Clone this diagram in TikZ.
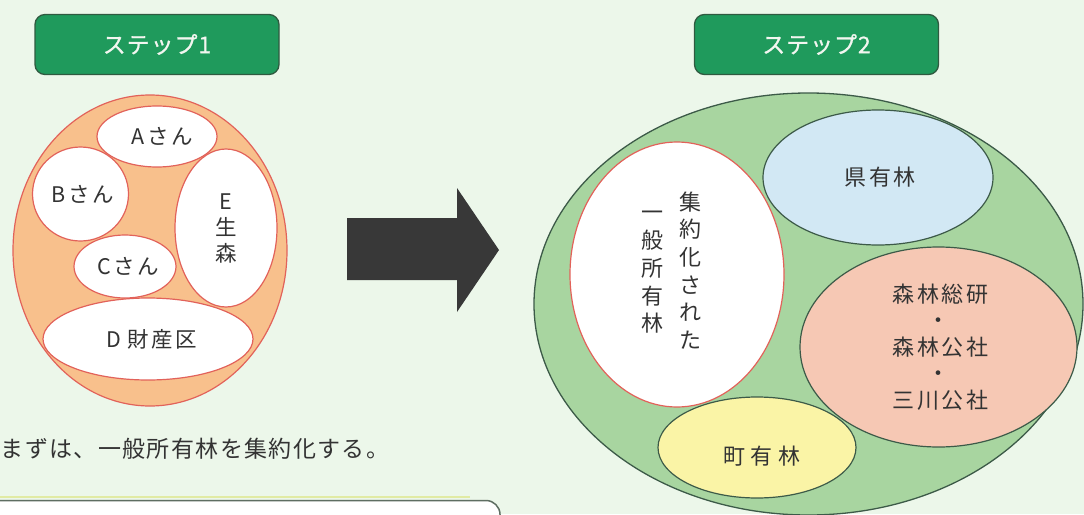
\documentclass[tikz,border=0pt]{standalone}
\usepackage{fontspec}
\setmainfont{Noto Sans CJK JP}
\newfontfamily\lsA[LetterSpace=6]{Noto Sans CJK JP}
\newfontfamily\lsB[LetterSpace=12]{Noto Sans CJK JP}
\newfontfamily\lsC[LetterSpace=26]{Noto Sans CJK JP}
\newfontfamily\stepf[LetterSpace=4,FakeBold=0.8]{Noto Sans CJK JP}
\usetikzlibrary{shapes.geometric}
\definecolor{bg}{HTML}{ECF7EA}
\definecolor{stepg}{HTML}{1F9A5C}
\definecolor{stepb}{HTML}{2F5A40}
\definecolor{peach}{HTML}{F8C08C}
\definecolor{redl}{HTML}{E2625A}
\definecolor{greenf}{HTML}{A8D5A0}
\definecolor{darkl}{HTML}{3C5A48}
\definecolor{bluef}{HTML}{D2E8F4}
\definecolor{pinkf}{HTML}{F6C8B4}
\definecolor{yellf}{HTML}{FAF4A6}
\definecolor{txt}{HTML}{333333}
\definecolor{arrowc}{HTML}{383838}
\definecolor{boxl}{HTML}{5E6E62}
\definecolor{stept}{HTML}{F2F6F0}
\begin{document}
\begin{tikzpicture}[x=1pt,y=1pt,
  stepbox/.style={draw=stepb, line width=1.3pt, fill=stepg, rounded corners=10pt,
    minimum width=244pt, minimum height=60pt, inner sep=0pt,
    text=stept, font=\stepf\fontsize{23}{26}\selectfont},
  lblob/.style={ellipse, draw=redl, line width=1.2pt, fill=white, inner sep=0pt,
    text=txt, align=center, font=\lsB\fontsize{21.5}{26}\selectfont},
  rblob/.style={ellipse, draw=darkl, line width=1.2pt, inner sep=0pt,
    text=txt, align=center, font=\lsB\fontsize{22}{26.5}\selectfont},
  vtext/.style={inner sep=0pt, text=txt, align=center, font=\fontsize{22}{27.7}\selectfont}
]
\useasboundingbox (0,0) rectangle (1084,-514);
\clip (0,0) rectangle (1084,-514);
\fill[bg] (0,0) rectangle (1084,-514);

% step labels
\node[stepbox] (s1) at (157,-44.5) {ステップ1};
\node[stepbox] (s2) at (816.5,-44.5) {ステップ2};

% step 1 group
\node[ellipse, draw=redl, line width=1.2pt, fill=peach, minimum width=274pt, minimum height=311pt, inner sep=0pt] (L) at (150,-250.5) {};
\node[lblob, minimum width=120pt, minimum height=61pt] (A) at (157,-136.5) {\hspace{10pt}Aさん};
\node[lblob, minimum width=96pt, minimum height=94pt] (B) at (80.5,-194) {\hspace{4pt}Bさん};
\node[lblob, minimum width=102pt, minimum height=63pt] (C) at (125,-266.5) {\hspace{6pt}Cさん};
\node[lblob, minimum width=102pt, minimum height=158pt] (E) at (226,-228) {E\\生\\森};
\node[lblob, minimum width=210pt, minimum height=82pt] (D) at (148,-339) {\hspace{8pt}D\hspace{6pt}財産区};

% caption
\node[anchor=west, inner sep=0pt, text=txt, font=\lsA\fontsize{23}{26}\selectfont] (cap) at (0.5,-449) {まずは、一般所有林を集約化する。};

% bottom box
\draw[draw=yellf!70!greenf, line width=1.2pt] (0,-497) -- (470,-497);
\draw[draw=boxl, line width=1.5pt, fill=white, rounded corners=14pt] (-20,-540) -- (-20,-500.5) -- (500,-500.5) -- (500,-540);

% big arrow
\fill[arrowc] (347,-218) -- (457,-218) -- (457,-188) -- (499,-250) -- (457,-312) -- (457,-280) -- (347,-280) -- cycle;

% step 2 group
\node[ellipse, draw=darkl, line width=1.3pt, fill=greenf, minimum width=549pt, minimum height=422pt, inner sep=0pt] (R) at (808.5,-304) {};
\node[ellipse, draw=redl, line width=1.2pt, fill=white, minimum width=214pt, minimum height=265pt, inner sep=0pt] (W) at (677,-274.5) {};
\node[vtext] (w1) at (690,-270.5) {集\\約\\化\\さ\\れ\\た};
\node[vtext] (w2) at (652,-272.5) {一\\般\\所\\有\\林};
\node[rblob, fill=bluef, minimum width=230pt, minimum height=135pt] (K) at (878,-177.5) {\hspace{4pt}県有林};
\node[rblob, fill=pinkf, minimum width=277pt, minimum height=200pt] (S) at (938.5,-347) {\hspace{4pt}森林総研\\・\\\hspace{4pt}森林公社\\・\\\hspace{4pt}三川公社};
\node[rblob, fill=yellf, minimum width=198pt, minimum height=101pt] (T) at (757,-447.5) {};
\node[inner sep=0pt, text=txt, font=\lsC\fontsize{22}{26}\selectfont] (Tt) at (762,-456) {町有林};
\end{tikzpicture}
\end{document}
